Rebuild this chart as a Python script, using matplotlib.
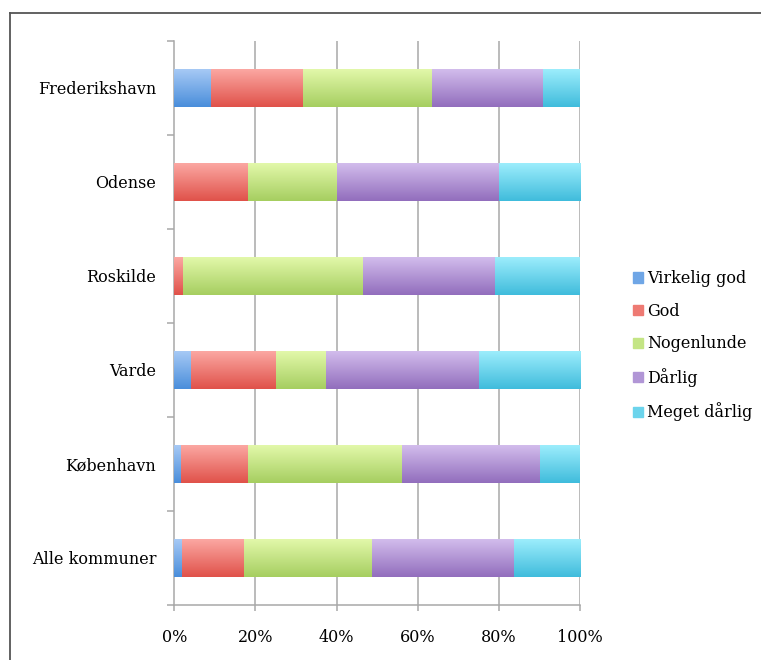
import numpy as np
import matplotlib
matplotlib.use("Agg")
import matplotlib.pyplot as plt
from matplotlib.colors import LinearSegmentedColormap
from matplotlib.lines import Line2D
from matplotlib.ticker import FixedLocator, FuncFormatter

# bottom to top
categories = ["Alle kommuner", "København", "Varde", "Roskilde", "Odense", "Frederikshavn"]
series_names = ["Virkelig god", "God", "Nogenlunde", "Dårlig", "Meget dårlig"]

virkelig_god = [2.0, 1.6, 4.2, 0.0, 0.0, 9.1]
god = [15.3, 16.6, 20.8, 2.2, 18.2, 22.7]
nogenlunde = [31.4, 38.0, 12.5, 44.4, 21.8, 31.8]
daarlig = [35.0, 34.0, 37.5, 32.5, 40.0, 27.3]
meget_daarlig = [16.3, 9.8, 25.0, 20.9, 20.0, 9.1]

x_ticks = [0, 20, 40, 60, 80, 100]

# (top, bottom) of the gradient fill
grads = [("#a6c9f5", "#4a8edb"),
         ("#fba7a2", "#e0524a"),
         ("#e2f8aa", "#a6ce60"),
         ("#d2bcec", "#926ebd"),
         ("#9cedfc", "#40bcdc")]
flat = ["#6fa6e6", "#ee7a73", "#c4e585", "#b196d6", "#6cd4ec"]

plt.rcParams['font.family'] = ['DejaVu Serif']
plt.rcParams['font.size'] = 11.5

fig = plt.figure(figsize=(7.61, 6.60), dpi=100)
ax = fig.add_axes([174.3/761, 55/660, 405.7/761, 564/660])

y = np.arange(len(categories))
left = np.zeros(len(categories))
all_series = [virkelig_god, god, nogenlunde, daarlig, meget_daarlig]

for vals, name, (c_top, c_bot), fc in zip(all_series, series_names, grads, flat):
    bars = ax.barh(y, vals, left=left, height=0.4, color=fc, label=name, zorder=2)
    cmap = LinearSegmentedColormap.from_list("g", [c_bot, c_top])
    for b in bars:
        if b.get_width() <= 0:
            continue
        x0, y0, w, h = b.get_x(), b.get_y(), b.get_width(), b.get_height()
        ax.imshow(np.linspace(0, 1, 64).reshape(-1, 1), cmap=cmap, origin='lower',
                  extent=(x0, x0 + w, y0, y0 + h), aspect='auto', zorder=3)
    left = left + np.array(vals)

ax.set_xlim(0, 100)
ax.set_ylim(-0.5, len(categories) - 0.5)

# grid + axes styling
gcol = "#a8a8a8"
for t in x_ticks[1:]:
    ax.axvline(t, color=gcol, lw=1.1, zorder=1)
for s in ['top', 'right']:
    ax.spines[s].set_visible(False)
for s in ['left', 'bottom']:
    ax.spines[s].set_color(gcol)
    ax.spines[s].set_linewidth(1.1)

ax.xaxis.set_major_locator(FixedLocator(x_ticks))
ax.xaxis.set_major_formatter(FuncFormatter(lambda v, p: f"{v:.0f}%"))
ax.tick_params(axis='x', length=4, width=1.1, color=gcol, pad=13)

ax.yaxis.set_major_locator(FixedLocator(np.arange(len(categories) + 1) - 0.5))
ax.yaxis.set_major_formatter(FuncFormatter(lambda v, p: ""))
ax.yaxis.set_minor_locator(FixedLocator(y))
ax.set_yticklabels(categories, minor=True)
ax.tick_params(axis='y', which='major', length=5, width=1.1, color=gcol)
ax.tick_params(axis='y', which='minor', length=0, pad=13)

fig.legend(handles=[plt.Rectangle((0, 0), 1, 1, color=c) for c in flat],
           labels=series_names, loc='upper left',
           bbox_to_anchor=(633/761, 1 - 270/660), frameon=False,
           borderpad=0, borderaxespad=0, handlelength=0.62, handleheight=0.62,
           handletextpad=0.28, labelspacing=0.98)

# cropped frame around the chart
fig.add_artist(Line2D([10/761, 10/761], [0, 1 - 13/660], color="#555555", lw=1.3,
                      transform=fig.transFigure))
fig.add_artist(Line2D([10/761, 1], [1 - 13/660, 1 - 13/660], color="#555555", lw=1.3,
                      transform=fig.transFigure))

fig.savefig("out.png", dpi=100)
